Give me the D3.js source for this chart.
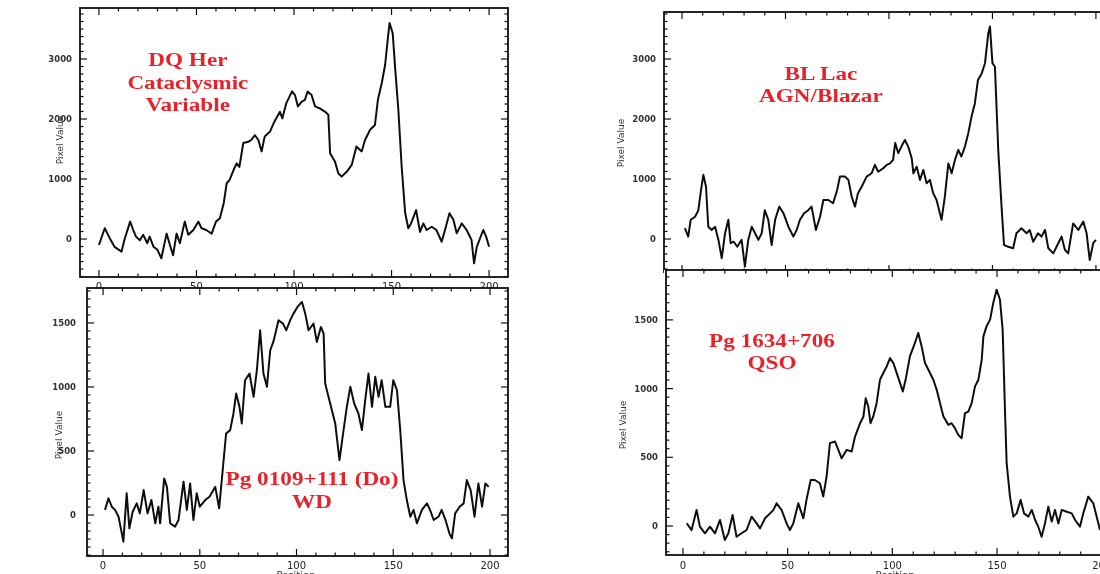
<!DOCTYPE html>
<html>
<head>
<meta charset="utf-8">
<script src="https://cdn.jsdelivr.net/npm/d3@7"></script>
<style>
  body { margin: 0; background: #fff; }
  text { font-family: "DejaVu Sans", sans-serif; }
</style>
</head>
<body>
<svg id="chart" width="1100" height="574"></svg>
<script>
// x tick labels shared by every panel
const positionTicks = [0, 50, 100, 150, 200];

// [position, pixel value]
const dqHer = [[0,-100],[3,180],[5.6,10],[8,-130],[11.6,-210],[13,-20],[16,290],[17.6,150],[19,40],[21,-20],
  [22.7,70],[24.8,-70],[26,40],[28,-130],[30,-180],[32,-320],[34.7,90],[36.4,-100],[38,-270],[39.8,90],
  [41.5,-70],[44,290],[45.8,70],[48.4,150],[51,290],[52.6,180],[55,150],[57.8,90],[60,290],[62,345],
  [64,600],[65.5,930],[67,985],[69,1150],[70.6,1260],[72,1200],[74,1600],[76.6,1620],[78,1650],[80,1730],
  [81.7,1650],[83.4,1460],[85,1710],[87.7,1790],[90,1960],[92.8,2120],[94,2010],[96,2260],[99,2460],[100.5,2400],
  [102,2210],[104,2290],[105.6,2320],[107,2460],[109,2400],[110.8,2210],[113,2180],[116,2120],[117.6,2070],[118.5,1430],
  [121,1290],[122.7,1095],[124.4,1040],[127,1120],[129.6,1235],[132,1540],[134.7,1460],[136.4,1650],[139,1820],[141.5,1900],
  [143,2320],[145,2600],[146.7,2900],[148.4,3430],[149,3600],[150.6,3430],[151.8,2870],[153.5,2150],[155.2,1200],[157,430],
  [158.6,180],[160,260],[162.6,480],[164.6,120],[166.3,260],[168,150],[170.6,205],[173,150],[175.7,-45],[177.4,150],
  [179.7,430],[181.7,320],[183.4,95],[186,260],[188.5,150],[191,-15],[192.3,-405],[193.7,-130],[197,150],[198.5,40],[200,-130]];

const pg0109 = [[1,40],[2.8,130],[4.5,65],[6.2,40],[8,-13],[9.7,-143],[10.5,-208],[12.2,170],[13.6,-104],[15.3,26],
  [17.4,91],[19,13],[21,195],[23,13],[25,117],[27,-65],[28.6,65],[29.5,-65],[31.6,286],[33,220],
  [34.7,-65],[37.2,-91],[39,-39],[41.6,260],[43.3,40],[45,247],[46.7,-39],[48.4,170],[50,65],[52.8,117],
  [55,143],[58,220],[60,52],[62,377],[63.6,637],[65.7,663],[67.4,793],[68.8,950],[70.5,845],[71.7,715],
  [73.4,1053],[75.7,1105],[77.8,923],[79.5,1131],[81.2,1443],[82.9,1105],[84.7,1001],[86.4,1287],[88,1352],[90.7,1521],
  [93,1495],[94.7,1443],[96.7,1521],[98.4,1573],[100.5,1625],[102.8,1664],[104.5,1573],[106.2,1443],[108.8,1495],[110.5,1352],
  [112.6,1469],[114,1417],[114.8,1027],[117.4,871],[120,715],[122.2,429],[124.3,663],[126,845],[127.8,1001],[129.8,871],
  [132,793],[133.8,663],[135.5,897],[137.2,1105],[139,845],[140.7,1079],[142.4,923],[144,1053],[145.9,845],[148.4,845],
  [150,1053],[151.9,975],[153.6,663],[155.3,273],[157,117],[158.8,-13],[160.5,40],[162.2,-65],[164.8,40],[167.4,91],
  [169,40],[170.9,-39],[173.4,-13],[175,40],[177,-39],[179,-143],[180.3,-182],[182,13],[184.3,65],[186.4,91],
  [188,273],[190,195],[192,-13],[194,247],[195.9,65],[197.6,247],[199.3,220]];

const blLac = [[1.4,180],[3,40],[4.2,320],[6.3,370],[7.9,480],[9.2,820],[10.3,1070],[11.6,870],[12.7,205],[14.3,150],
  [16,205],[17.6,-15],[19.2,-320],[20.8,95],[22.4,320],[23.5,-70],[25,-45],[26.7,-130],[28.8,-15],[30.4,-460],
  [32,-15],[33.7,205],[35.3,95],[36.9,-15],[38.5,95],[40,480],[41.7,320],[43.3,-100],[45,320],[47,540],
  [49,430],[51.4,205],[53.8,40],[55.4,150],[57,320],[59,430],[61,480],[62.6,540],[64.7,150],[66.7,370],
  [68.3,650],[70.7,650],[73,595],[75,820],[76.3,1040],[78.7,1040],[80.4,985],[82,705],[83.6,540],[85,760],
  [86.8,870],[89.2,1040],[91.6,1095],[93.2,1235],[94.8,1120],[97.3,1180],[98.9,1235],[100.5,1260],[102,1320],[103,1600],
  [104.5,1430],[106,1540],[107.7,1650],[109.3,1540],[111,1345],[111.8,1095],[113.4,1205],[115,985],[116.6,1150],[118.2,930],
  [119.8,985],[121.4,760],[123,650],[124.6,430],[125.4,320],[127,705],[128.7,1260],[130.3,1095],[131.9,1320],[133.5,1485],
  [135,1375],[136.7,1540],[138.3,1760],[139.9,2040],[141.5,2260],[143,2650],[144.8,2760],[146.4,2930],[148,3430],[148.8,3540],
  [150,2930],[151.2,2870],[152.8,1485],[154.4,540],[155.6,-100],[157.6,-130],[160,-155],[161.6,95],[164,180],[166.5,95],
  [168,150],[169.7,-45],[172,95],[173.7,40],[175.4,150],[177,-155],[179.4,-240],[181.8,-70],[183.4,40],[185,-180],
  [186.6,-240],[189,260],[191.5,150],[193.9,290],[195.5,95],[197,-350],[198.7,-70],[200,-15]];

const pg1634 = [[1.8,20],[4.1,-30],[6.5,117],[8.1,-5],[10.5,-53],[12.9,-5],[15.3,-53],[17.7,44],[20,-102],[21.7,-53],
  [23.7,80],[25.6,-78],[28,-53],[30.4,-29],[32.8,68],[35.2,19],[36.8,-17],[39.2,56],[41.6,92],[43.2,117],
  [44.7,165],[47.1,117],[49.5,19],[51.1,-29],[52.7,19],[55.1,165],[57.5,56],[59,190],[61,335],[63,335],
  [65.4,311],[67,214],[68.6,360],[70.2,603],[72.6,615],[74.2,554],[75.8,493],[78.2,554],[80.6,542],[82.2,651],
  [84.6,748],[86.2,797],[87.3,930],[88.5,870],[89.6,748],[90.9,797],[92.5,894],[94.1,1064],[95.7,1113],[97.3,1161],
  [98.9,1222],[100.5,1186],[102.1,1113],[103.7,1040],[105,979],[106.5,1076],[108.4,1234],[110.8,1332],[112.4,1405],[114,1307],
  [115.6,1186],[118,1113],[119.6,1064],[121.2,991],[122.8,894],[124.4,797],[126.8,736],[128.3,748],[129.9,712],[131.5,663],
  [133.1,639],[134.7,821],[136.3,833],[137.9,894],[139.5,1016],[141.1,1064],[142.7,1210],[143.5,1380],[145,1453],[146.7,1502],
  [148.2,1623],[149.8,1720],[151.4,1648],[152.7,1429],[153.8,846],[154.6,457],[156.2,214],[157.8,68],[159.4,92],[161.3,190],
  [162.9,92],[165,68],[166.6,117],[168.2,44],[169.7,-5],[171.3,-78],[172.9,19],[174.5,141],[176.1,32],[177.7,117],
  [179.3,19],[180.9,117],[183.3,104],[185.7,92],[187.3,44],[189.6,-5],[191.2,92],[193.6,214],[196,165],[197.6,68],[199.2,-29]];

const topTicks = [0, 1000, 2000, 3000];
const bottomTicks = [0, 500, 1000, 1500];

const dqHerLabel = ["DQ Her", "Cataclysmic", "Variable"];
const pg0109Label = ["Pg 0109+111 (Do)", "WD"];
const blLacLabel = ["BL Lac", "AGN/Blazar"];
const pg1634Label = ["Pg 1634+706", "QSO"];

// layout of the four framed plots (drawn in this order, later ones cover earlier ones)
const panels = [
  { data: dqHer, label: dqHerLabel, labelAt: [45.6, 2883], yTicks: topTicks, yMinor: 125,
    box: [80, 8, 508, 277], xDom: [-9.7, 209.7], yDom: [-633, 3850], labelGap: 8,
    yTitle: [63, 140], xLabelY: 290, xTitle: false },
  { data: pg0109, label: pg0109Label, labelAt: [108, 234], yTicks: bottomTicks, yMinor: 62.5,
    box: [87, 288, 508, 556], xDom: [-8.3, 209.3], yDom: [-320, 1773], labelGap: 11,
    yTitle: [62, 435], xLabelY: 569, xTitle: [296, 579] },
  { data: blLac, label: blLacLabel, labelAt: [67.1, 2650], yTicks: topTicks, yMinor: 125,
    box: [664, 12, 1122, 272], xDom: [-8.7, 212.6], yDom: [-550, 3783], labelGap: 8,
    yTitle: [624, 143], xLabelY: null, xTitle: false },
  { data: pg1634, label: pg1634Label, labelAt: [42.5, 1303], yTicks: bottomTicks, yMinor: 62.5,
    box: [666, 270, 1122, 555], xDom: [-8.1, 209.7], yDom: [-211, 1863], labelGap: 8,
    yTitle: [626, 425], xLabelY: 569, xTitle: [895, 579] }
];

const svg = d3.select("#chart");
svg.append("defs").append("filter")
    .attr("id", "scan")
    .append("feGaussianBlur")
    .attr("stdDeviation", 0.45);

const root = svg.append("g").attr("filter", "url(#scan)");

panels.forEach(p => {
    const [x0, y0, x1, y1] = p.box;
    const x = d3.scaleLinear().domain(p.xDom).range([x0, x1]);
    const y = d3.scaleLinear().domain(p.yDom).range([y1, y0]);
    const g = root.append("g");

    // white backing so a lower panel hides the labels of the one above
    g.append("rect")
        .attr("x", x0 - 2).attr("y", y0)
        .attr("width", x1 - x0 + 4).attr("height", y1 - y0 + 1)
        .attr("fill", "#fff");

    // inward ticks on all four sides, IDL style
    const xMinor = d3.range(0, 201, 10);
    const yMinorVals = d3.range(Math.ceil(p.yDom[0] / p.yMinor) * p.yMinor, p.yDom[1], p.yMinor);
    const tickG = g.append("g").attr("stroke", "#111").attr("stroke-width", 1.2);
    xMinor.forEach(v => {
        const len = v % 50 === 0 ? 7 : 3.5;
        tickG.append("line").attr("x1", x(v)).attr("x2", x(v)).attr("y1", y1).attr("y2", y1 - len);
        tickG.append("line").attr("x1", x(v)).attr("x2", x(v)).attr("y1", y0).attr("y2", y0 + len);
    });
    yMinorVals.forEach(v => {
        const len = p.yTicks.includes(v) ? 7 : 3.5;
        tickG.append("line").attr("y1", y(v)).attr("y2", y(v)).attr("x1", x0).attr("x2", x0 + len);
        tickG.append("line").attr("y1", y(v)).attr("y2", y(v)).attr("x1", x1).attr("x2", x1 - len);
    });

    g.append("rect")
        .attr("x", x0).attr("y", y0)
        .attr("width", x1 - x0).attr("height", y1 - y0)
        .attr("fill", "none")
        .attr("stroke", "#111")
        .attr("stroke-width", 1.8);

    // y tick labels
    g.append("g").selectAll("text")
        .data(p.yTicks)
        .join("text")
        .attr("x", x0 - p.labelGap)
        .attr("y", d => y(d) + 3)
        .attr("text-anchor", "end")
        .attr("font-size", 8.5)
        .attr("font-weight", "bold")
        .attr("fill", "#333")
        .text(d => d);

    // x tick labels
    if (p.xLabelY !== null) {
        g.append("g").selectAll("text")
            .data(positionTicks)
            .join("text")
            .attr("x", d => x(d))
            .attr("y", p.xLabelY)
            .attr("text-anchor", "middle")
            .attr("font-size", 10)
            .attr("fill", "#222")
            .text(d => d);
    }
    if (p.xTitle) {
        g.append("text")
            .attr("x", p.xTitle[0]).attr("y", p.xTitle[1])
            .attr("text-anchor", "middle")
            .attr("font-size", 10)
            .attr("fill", "#333")
            .text("Position");
    }

    g.append("text")
        .attr("transform", `translate(${p.yTitle[0]},${p.yTitle[1]}) rotate(-90)`)
        .attr("text-anchor", "middle")
        .attr("font-size", 9)
        .attr("fill", "#333")
        .text("Pixel Value");

    const line = d3.line()
        .x(d => x(d[0]))
        .y(d => y(d[1]));

    g.append("path")
        .datum(p.data)
        .attr("d", line)
        .attr("fill", "none")
        .attr("stroke", "#111")
        .attr("stroke-width", 2)
        .attr("stroke-linejoin", "round");

    // red annotation, horizontally stretched like the scan
    const lab = g.append("g")
        .attr("transform", `translate(${x(p.labelAt[0])},${y(p.labelAt[1])}) scale(1.22,1)`);
    lab.selectAll("text")
        .data(p.label)
        .join("text")
        .attr("x", 0)
        .attr("y", (d, i) => i * 22.5)
        .attr("text-anchor", "middle")
        .style("font-family", "'Liberation Serif', 'Times New Roman', serif")
        .attr("font-size", 19)
        .attr("font-weight", "bold")
        .attr("fill", "#e8232b")
        .text(d => d);
});
</script>
</body>
</html>
